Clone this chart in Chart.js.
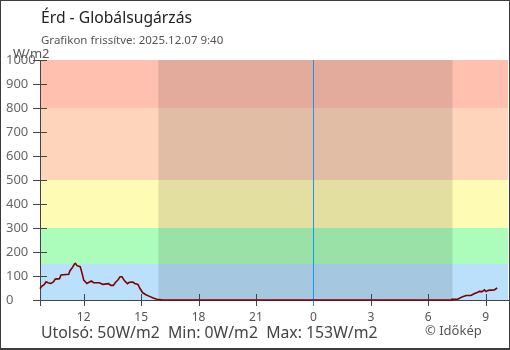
<!DOCTYPE html>
<html><head><meta charset="utf-8">
<script src="https://cdn.jsdelivr.net/npm/chart.js@4.4.1/dist/chart.umd.min.js"></script>
<style>
html,body{margin:0;padding:0;background:#fff;}
#wrap{position:relative;width:510px;height:350px;font-family:"Noto Sans",sans-serif;overflow:hidden;background:#fff}
canvas{position:absolute;left:0;top:0}
#frame{position:absolute;left:0;top:0;width:510px;height:350px;box-sizing:border-box;border:1px solid #3c3c3c;border-bottom-width:2px;pointer-events:none}
.t{position:absolute;white-space:pre;line-height:1}
</style></head><body>
<div id="wrap">
<canvas id="c" width="510" height="350"></canvas>
<div class="t" style="left:41px;top:10px;font-size:15.7px;color:#222">Érd - Globálsugárzás</div>
<div class="t" style="left:41px;top:34px;font-size:11.5px;color:#555">Grafikon frissítve: 2025.12.07 9:40</div>
<div class="t" style="left:13px;top:47px;font-size:13px;color:#555">W/m2</div>
<div class="t" style="left:41px;top:325px;font-size:15.8px;color:#444">Utolsó: 50W/m2  Min: 0W/m2  Max: 153W/m2</div>
<div class="t" style="left:425px;top:324px;font-size:13px;color:#555">© Időkép</div>
<div id="frame"></div>
</div>
<script>
// ---- data ----
const times = [
 "2025-12-06T09:43","2025-12-06T09:49","2025-12-06T09:56","2025-12-06T10:02","2025-12-06T10:08",
 "2025-12-06T10:17","2025-12-06T10:25","2025-12-06T10:31","2025-12-06T10:44","2025-12-06T10:49",
 "2025-12-06T11:13","2025-12-06T11:17","2025-12-06T11:23","2025-12-06T11:31","2025-12-06T11:34",
 "2025-12-06T11:39","2025-12-06T11:49","2025-12-06T11:55","2025-12-06T12:00","2025-12-06T12:10",
 "2025-12-06T12:18","2025-12-06T12:24","2025-12-06T12:31","2025-12-06T12:49","2025-12-06T13:00",
 "2025-12-06T13:18","2025-12-06T13:25","2025-12-06T13:33","2025-12-06T13:40","2025-12-06T13:47",
 "2025-12-06T13:54","2025-12-06T14:00","2025-12-06T14:08","2025-12-06T14:17","2025-12-06T14:23",
 "2025-12-06T14:34","2025-12-06T14:40","2025-12-06T14:50","2025-12-06T14:56","2025-12-06T15:05",
 "2025-12-06T15:15","2025-12-06T15:28","2025-12-06T15:38","2025-12-06T15:49","2025-12-06T16:08",
 "2025-12-07T07:13","2025-12-07T07:14","2025-12-07T07:32","2025-12-07T07:38","2025-12-07T07:48",
 "2025-12-07T07:59","2025-12-07T08:14","2025-12-07T08:22","2025-12-07T08:35","2025-12-07T08:40",
 "2025-12-07T08:49","2025-12-07T08:56","2025-12-07T09:01","2025-12-07T09:08","2025-12-07T09:27",
 "2025-12-07T09:36"
];
const values = [
 47,58,64,76,72,
 69,75,87,89,104,
 107,122,132,150,153,
 143,139,111,83,69,
 75,79,72,72,65,
 68,61,61,74,83,
 97,97,80,68,74,
 75,69,65,49,30,
 22,14,8,3,0,
 0,3,3,7,14,
 19,19,25,32,36,
 35,42,35,40,42,
 50
];
const xTickTimes = ["2025-12-06T12:00","2025-12-06T15:00","2025-12-06T18:00","2025-12-06T21:00",
 "2025-12-07T00:00","2025-12-07T03:00","2025-12-07T06:00","2025-12-07T09:00"];
const yTicks = [0,100,200,300,400,500,600,700,800,900,1000];
const bandLimits = [0,150,300,500,800,1000];
const bandColors = ["#bae0fb","#acfdbb","#fefbb4","#fed5ba","#ffc0b0"];
const nightStart = "2025-12-06T15:54";
const nightEnd = "2025-12-07T07:16";
const midnight = "2025-12-07T00:00";
const rangeStart = "2025-12-06T09:43";
const rangeEnd = "2025-12-07T10:10";

// ---- helpers ----
const ref = Date.parse(midnight);
const toH = s => (Date.parse(s) - ref) / 3600000;
const FONT = "Noto Sans";

const bgPlugin = {
  id: 'bg',
  beforeDatasetsDraw(chart) {
    const {ctx, chartArea: a, scales: {x, y}} = chart;
    ctx.save();
    for (let i = 0; i < bandColors.length; i++) {
      const y1 = y.getPixelForValue(bandLimits[i + 1]);
      const y0 = y.getPixelForValue(bandLimits[i]);
      ctx.fillStyle = bandColors[i];
      ctx.fillRect(a.left, y1, a.right - a.left, y0 - y1);
    }
    const nx0 = x.getPixelForValue(toH(nightStart));
    const nx1 = x.getPixelForValue(toH(nightEnd));
    ctx.fillStyle = "rgba(0,0,0,0.11)";
    ctx.fillRect(nx0, a.top, nx1 - nx0, a.bottom - a.top);
    // axes and tick marks
    const lx = Math.round(a.left), by = Math.round(a.bottom);
    ctx.fillStyle = "#444";
    ctx.fillRect(lx, a.top, 1, a.bottom + 6 - a.top);
    ctx.fillRect(a.left, by, a.right + 1 - a.left, 1);
    yTicks.forEach(v => {
      const py = Math.round(y.getPixelForValue(v));
      ctx.fillRect(lx - 7, py, 14, 1);
    });
    xTickTimes.forEach(t => {
      if (toH(t) === toH(midnight)) return;
      const px = Math.round(x.getPixelForValue(toH(t)));
      ctx.fillRect(px, by - 6, 1, 12);
    });
    // midnight marker (blue), under the data line
    const mx = Math.round(x.getPixelForValue(toH(midnight)));
    ctx.fillStyle = "#1e90ff";
    ctx.fillRect(mx, a.top, 1, by + 6 - a.top);
    ctx.restore();
  }
};

new Chart(document.getElementById('c'), {
  type: 'line',
  data: {
    datasets: [{
      data: times.map((t, i) => ({x: toH(t), y: values[i]})),
      borderColor: '#800000',
      borderWidth: 1.6,
      pointRadius: 0,
      tension: 0,
      fill: false,
      clip: 4
    }]
  },
  options: {
    responsive: false,
    animation: false,
    events: [],
    layout: {padding: {left: 6, top: 60, right: 2, bottom: 0}},
    plugins: {legend: {display: false}, tooltip: {enabled: false}, title: {display: false}},
    scales: {
      x: {
        type: 'linear',
        min: toH(rangeStart), max: toH(rangeEnd),
        afterFit(s) { s.height = 50; },
        afterBuildTicks(s) { s.ticks = xTickTimes.map(t => ({value: toH(t)})); },
        grid: {display: false},
        border: {display: false},
        ticks: {
          autoSkip: false, maxRotation: 0, padding: 2,
          color: '#555', font: {family: FONT, size: 12},
          callback: v => String(((Math.round(v) % 24) + 24) % 24)
        }
      },
      y: {
        min: 0, max: 1000,
        afterFit(s) { s.width = 34; },
        afterBuildTicks(s) { s.ticks = yTicks.map(v => ({value: v})); },
        grid: {display: false},
        border: {display: false},
        ticks: {
          padding: 6, crossAlign: 'far', color: '#666', font: {family: FONT, size: 13},
          callback: v => String(v)
        }
      }
    }
  },
  plugins: [bgPlugin]
});
</script>
</body></html>
